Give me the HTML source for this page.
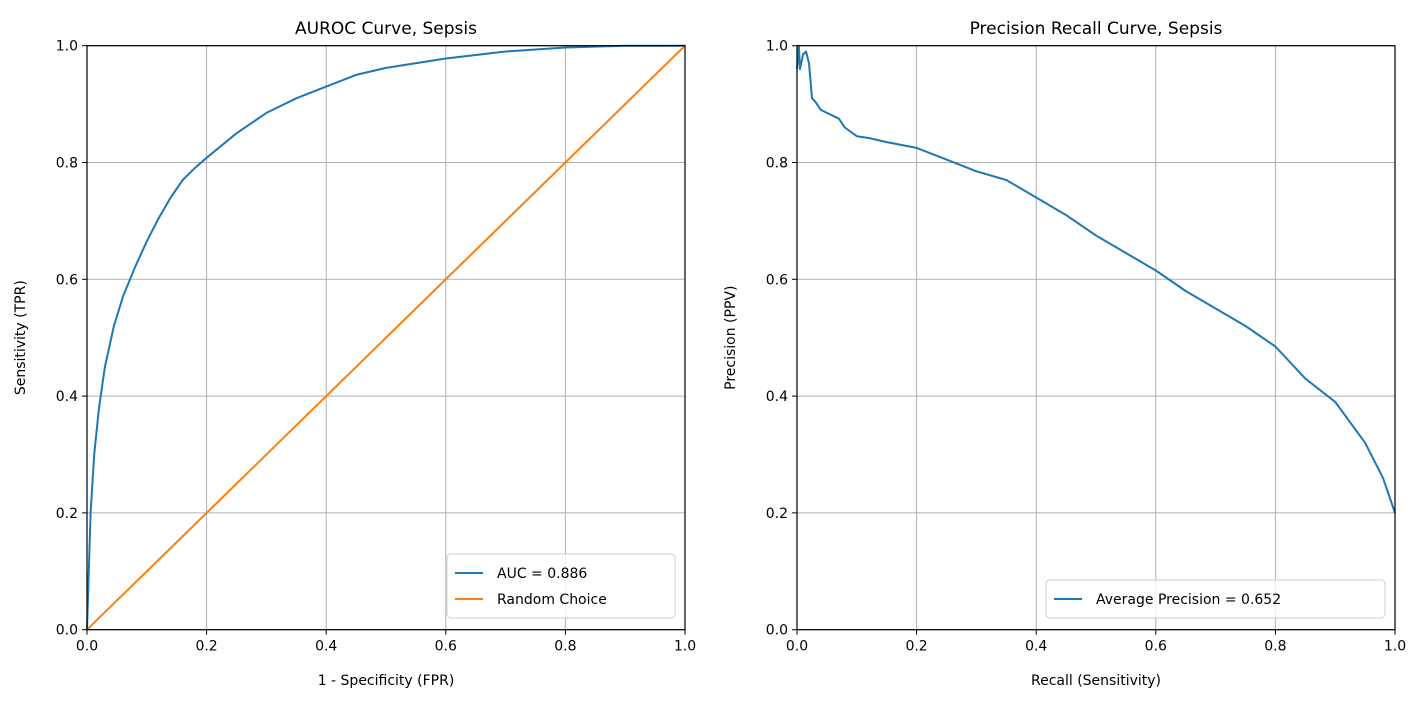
<!DOCTYPE html>
<html><head><meta charset="utf-8"><style>
body{margin:0;background:#fff;}
svg{display:block;font-family:"DejaVu Sans","Liberation Sans",sans-serif;}
</style></head><body>
<svg id="chart" width="1424" height="704"></svg>
<script>
const rocFpr=[0,0.003,0.006,0.012,0.02,0.03,0.045,0.06,0.08,0.1,0.12,0.14,0.16,0.18,0.2,0.25,0.3,0.35,0.4,0.45,0.5,0.6,0.7,0.8,0.9,1];
const rocTpr=[0,0.1,0.2,0.3,0.38,0.45,0.52,0.57,0.62,0.665,0.705,0.74,0.77,0.79,0.808,0.85,0.885,0.91,0.93,0.95,0.962,0.978,0.99,0.997,1,1];
const randX=[0,1];
const randY=[0,1];
const prRecall=[0,0.003,0.005,0.01,0.015,0.02,0.025,0.03,0.04,0.05,0.07,0.08,0.1,0.12,0.15,0.2,0.25,0.3,0.35,0.4,0.45,0.5,0.55,0.6,0.65,0.7,0.75,0.8,0.85,0.9,0.95,0.98,1.0];
const prPrecision=[0.96,1.0,0.96,0.985,0.99,0.97,0.91,0.905,0.89,0.885,0.875,0.86,0.845,0.842,0.835,0.825,0.805,0.785,0.77,0.74,0.71,0.675,0.645,0.615,0.58,0.55,0.52,0.485,0.43,0.39,0.32,0.26,0.2];
const ticks=[0,0.2,0.4,0.6,0.8,1.0];
const tickLabels=["0.0","0.2","0.4","0.6","0.8","1.0"];

const NS="http://www.w3.org/2000/svg";
const svg=document.getElementById('chart');
function el(tag,attrs,parent){const e=document.createElementNS(NS,tag);for(const k in attrs)e.setAttribute(k,attrs[k]);(parent||svg).appendChild(e);return e;}
const yTop=45.7,yBot=629.7;
function makeAxes(x0,name,title,xlabel,ylabel){
  const g=el('g',{});
  
  
  const w=598;
  const sx=v=>x0+v*w, sy=v=>yBot-v*(yBot-yTop);
  ticks.forEach((t,i)=>{
    const gx=el('line',{x1:sx(t),x2:sx(t),y1:yTop,y2:yBot,stroke:'#b0b0b0','stroke-width':1},g);
    
    
    const gy=el('line',{x1:x0,x2:x0+w,y1:sy(t),y2:sy(t),stroke:'#b0b0b0','stroke-width':1},g);
    
    
    el('line',{x1:sx(t),x2:sx(t),y1:yBot,y2:yBot+5,stroke:'#000'},g);
    el('line',{x1:x0-5,x2:x0,y1:sy(t),y2:sy(t),stroke:'#000'},g);
    const xl=el('text',{x:sx(t),y:yBot+21,'text-anchor':'middle','font-size':14},g);xl.textContent=tickLabels[i];
    
    
    const yl=el('text',{x:x0-9,y:sy(t)+5,'text-anchor':'end','font-size':14},g);yl.textContent=tickLabels[i];
    
    
  });
  const t=el('text',{x:x0+w/2,y:34,'text-anchor':'middle','font-size':17},g);t.textContent=title;
  
  
  const xt=el('text',{x:x0+w/2,y:685,'text-anchor':'middle','font-size':14},g);xt.textContent=xlabel;
  
  
  const yt=el('text',{x:0,y:0,'text-anchor':'middle','font-size':14,transform:`translate(${x0-62},${(yTop+yBot)/2}) rotate(-90)`},g);yt.textContent=ylabel;
  
  
  return {g,sx,sy,x0,w};
}
function line(ax,xs,ys,color,name){
  const d=xs.map((x,i)=>(i?'L':'M')+ax.sx(x).toFixed(1)+','+ax.sy(ys[i]).toFixed(1)).join('');
  const p=el('path',{d,fill:'none',stroke:color,'stroke-width':2,'stroke-linejoin':'round'},ax.g);
  
  
}
function frame(ax){el('rect',{x:ax.x0,y:yTop,width:ax.w,height:yBot-yTop,fill:'none',stroke:'#000','stroke-width':1.2},ax.g);}
function legend(ax,x,y,w,entries){
  const lg=el('g',{},ax.g);
  
  
  el('rect',{x,y,width:w,height:entries.length*26+12,rx:4,fill:'#fff','fill-opacity':0.8,stroke:'#ccc'},lg);
  entries.forEach((e,i)=>{
    const cy=y+19+i*26;
    el('line',{x1:x+8,x2:x+36,y1:cy,y2:cy,stroke:e[1],'stroke-width':2},lg);
    const tx=el('text',{x:x+50,y:cy+5,'font-size':14},lg);tx.textContent=e[0];
    
    
  });
}
const a1=makeAxes(87,'roc-axes','AUROC Curve, Sepsis','1 - Specificity (FPR)','Sensitivity (TPR)');
line(a1,rocFpr,rocTpr,'#1f77b4','roc-curve');
line(a1,randX,randY,'#ff7f0e','random-choice-line');
frame(a1);
legend(a1,447,554,228,[['AUC = 0.886','#1f77b4'],['Random Choice','#ff7f0e']]);
const a2=makeAxes(797,'pr-axes','Precision Recall Curve, Sepsis','Recall (Sensitivity)','Precision (PPV)');
line(a2,prRecall,prPrecision,'#1f77b4','pr-curve');
frame(a2);
legend(a2,1046,580,339,[['Average Precision = 0.652','#1f77b4']]);
</script>
</body></html>
